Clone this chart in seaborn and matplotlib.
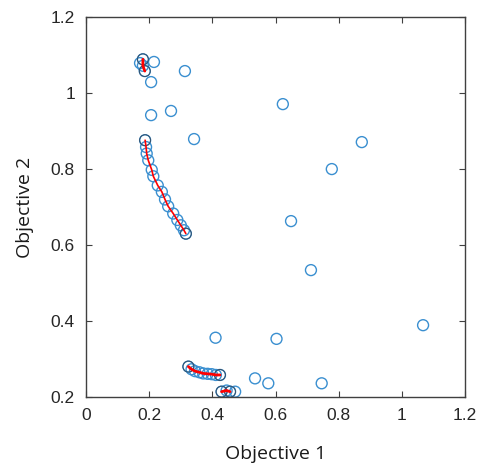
import matplotlib
matplotlib.use("Agg")
import matplotlib.pyplot as plt
import seaborn as sns
import pandas as pd

# Dominated / scattered solutions
other_x = [0.171, 0.215, 0.206, 0.313, 0.206, 0.269, 0.342, 0.623, 0.873, 0.778,
           0.649, 0.712, 1.067, 0.410, 0.603, 0.535, 0.577, 0.746, 0.472]
other_y = [1.079, 1.082, 1.029, 1.058, 0.942, 0.953, 0.879, 0.971, 0.871, 0.800,
           0.663, 0.534, 0.389, 0.356, 0.353, 0.249, 0.236, 0.236, 0.214]

# Pareto front segments
front1_x = [0.180, 0.180, 0.186]
front1_y = [1.089, 1.072, 1.058]

front2_x = [0.187, 0.190, 0.192, 0.197, 0.208, 0.213, 0.227, 0.240, 0.250,
            0.260, 0.276, 0.289, 0.300, 0.310, 0.316]
front2_y = [0.876, 0.858, 0.841, 0.823, 0.798, 0.781, 0.757, 0.740, 0.720,
            0.702, 0.683, 0.666, 0.652, 0.639, 0.630]

front3_x = [0.324, 0.334, 0.345, 0.359, 0.371, 0.385, 0.398, 0.411, 0.424]
front3_y = [0.280, 0.273, 0.268, 0.265, 0.262, 0.261, 0.260, 0.258, 0.258]

front4_x = [0.429, 0.445, 0.456]
front4_y = [0.214, 0.217, 0.214]

xticks = [0, 0.2, 0.4, 0.6, 0.8, 1, 1.2]
yticks = [0.2, 0.4, 0.6, 0.8, 1, 1.2]
xtick_labels = ["0", "0.2", "0.4", "0.6", "0.8", "1", "1.2"]
ytick_labels = ["0.2", "0.4", "0.6", "0.8", "1", "1.2"]

sns.set_style("white")
plt.rcParams['font.family'] = ['Liberation Sans', 'DejaVu Sans']

fig = plt.figure(figsize=(4.78, 4.76), dpi=100)
ax = fig.add_axes([0.180, 0.166, 0.793, 0.798])

blue = "#3a8fd0"
marker_kw = dict(marker="o", s=62, facecolors="none", linewidths=1.0, legend=False)

sns.scatterplot(x=other_x, y=other_y, ax=ax, edgecolors=blue, **marker_kw)

fronts = [(front1_x, front1_y), (front2_x, front2_y), (front3_x, front3_y), (front4_x, front4_y)]
for fx, fy in fronts:
    sns.scatterplot(x=fx, y=fy, ax=ax, edgecolors=blue, **marker_kw)
# darker outline on segment end points
for fx, fy in fronts:
    sns.scatterplot(x=[fx[0], fx[-1]], y=[fy[0], fy[-1]], ax=ax,
                    edgecolors="#34506b", **{**marker_kw, "linewidths": 0.7})

lw = [2.0, 1.2, 2.0, 2.0]
for (fx, fy), w in zip(fronts, lw):
    df = pd.DataFrame({"x": fx, "y": fy})
    sns.lineplot(data=df, x="x", y="y", ax=ax, sort=False, color="red",
                 linewidth=w, estimator=None)

ax.set_xlim(0, 1.2)
ax.set_ylim(0.2, 1.2)
ax.set_xticks(xticks)
ax.set_xticklabels(xtick_labels)
ax.set_yticks(yticks)
ax.set_yticklabels(ytick_labels)

axis_col = "#404040"
for sp in ax.spines.values():
    sp.set_visible(True)
    sp.set_color(axis_col)
    sp.set_linewidth(1.0)
ax.tick_params(direction="in", length=4, width=0.8, colors=axis_col,
               labelcolor="#262626", labelsize=12.5, top=True, right=True,
               bottom=True, left=True, pad=8)

ax.set_xlabel("Objective 1", family=["Open Sans", "DejaVu Sans"], fontsize=14,
              color="#1a1a1a", labelpad=16)
ax.set_ylabel("Objective 2", family=["Open Sans", "DejaVu Sans"], fontsize=14,
              color="#1a1a1a", labelpad=12)

fig.savefig("out.png", dpi=100, facecolor="white")
